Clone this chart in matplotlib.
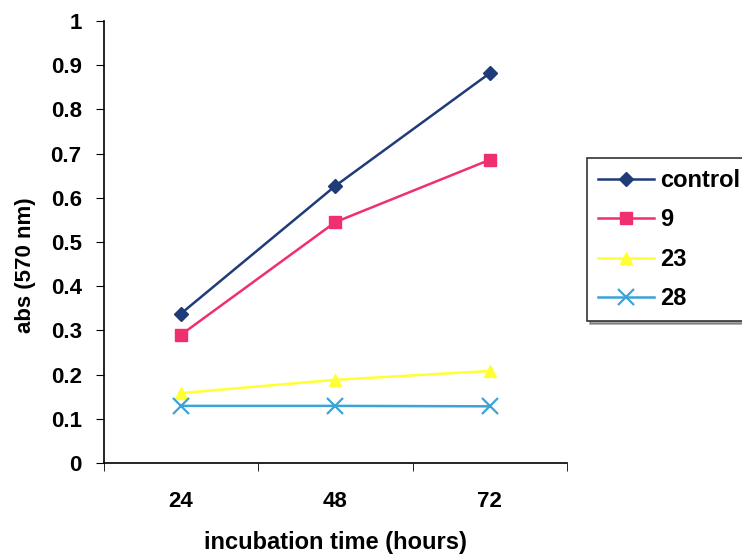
import matplotlib.pyplot as plt

hours = ["24", "48", "72"]
control = [0.338, 0.627, 0.882]
s9 = [0.290, 0.545, 0.686]
s23 = [0.158, 0.188, 0.208]
s28 = [0.129, 0.129, 0.128]

plt.rcParams['font.family'] = ['Liberation Sans', 'DejaVu Sans']
plt.rcParams['font.weight'] = 'bold'

fig = plt.figure(figsize=(7.42, 5.55), dpi=100)
ax = fig.add_axes([0.140, 0.166, 0.624, 0.796])

x = [1, 2, 3]
ax.plot(x, control, color='#1f3c78', marker='D', ms=7, lw=1.8, label='control')
ax.plot(x, s9, color='#f0306e', marker='s', ms=8, lw=1.8, label='9')
ax.plot(x, s23, color='#ffff33', marker='^', ms=9, lw=1.8, label='23')
ax.plot(x, s28, color='#3aa3d8', marker='x', ms=11, mew=1.6, lw=1.8, label='28')

ax.set_xlim(0.5, 3.5)
ax.set_ylim(0, 1)
ax.set_xticks(x)
ax.set_xticklabels(hours)
ax.set_xticks([0.5, 1.5, 2.5, 3.5], minor=True)
ax.tick_params(axis='x', which='major', length=0, pad=20, labelsize=16)
ax.tick_params(axis='x', which='minor', length=6, direction='out')
ax.set_yticks([i / 10 for i in range(11)])
ax.set_yticklabels(['0', '0.1', '0.2', '0.3', '0.4', '0.5', '0.6', '0.7', '0.8', '0.9', '1'])
ax.tick_params(axis='y', length=6, direction='out', labelsize=16, pad=10)

for s in ['top', 'right']:
    ax.spines[s].set_visible(False)
for s in ['left', 'bottom']:
    ax.spines[s].set_linewidth(1.2)

ax.set_ylabel('abs (570 nm)', fontsize=16, fontweight='bold')
ax.yaxis.set_label_coords(-0.147, 0.448)
ax.set_xlabel('incubation time (hours)', fontsize=17, fontweight='bold')
ax.xaxis.set_label_coords(0.5, -0.155)

leg = ax.legend(loc='upper left', bbox_to_anchor=(0.791, 0.715), bbox_transform=fig.transFigure,
                fontsize=17, frameon=True, fancybox=False, shadow=True, borderaxespad=0,
                handlelength=2.4, borderpad=0.45, labelspacing=0.7, handletextpad=0.25)
leg.get_frame().set_edgecolor('#333333')
leg.get_frame().set_linewidth(1.2)

fig.savefig('out.png', dpi=100)
